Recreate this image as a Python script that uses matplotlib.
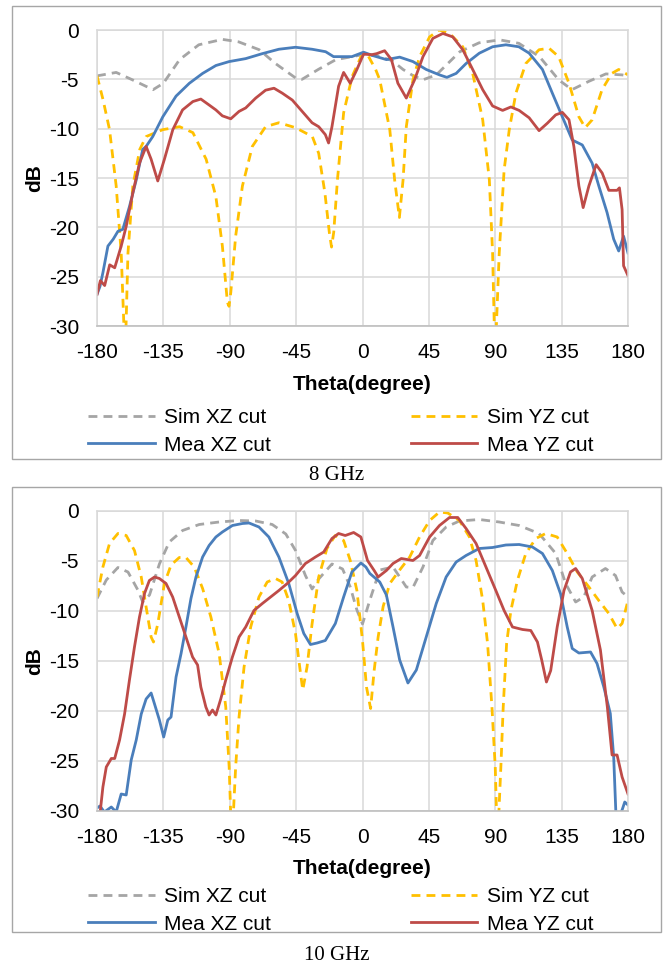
import matplotlib
matplotlib.use("Agg")
import matplotlib.pyplot as plt
from matplotlib.patches import Rectangle

plt.rcParams['font.family'] = ['Liberation Sans', 'DejaVu Sans']
plt.rcParams['axes.unicode_minus'] = False

# ---- 8 GHz ----
sim_xz_8_t = [-180, -167, -156, -142, -135, -124, -111, -95, -84, -70, -59, -45, -41, -30, -18, -7, 0, 10, 20, 27.5,
              34, 41, 50, 66, 79, 93, 106, 120, 133, 142, 153.5, 165, 176, 180]
sim_xz_8_db = [-4.65, -4.3, -5.05, -6.05, -5.4, -3.0, -1.5, -0.95, -1.2, -2.0, -3.4, -4.9, -5.0, -4.0, -3.0, -2.7, -2.5, -2.6, -3.1, -4.0,
               -4.6, -5.05, -4.55, -2.2, -1.3, -1.0, -1.35, -2.7, -5.05, -6.05, -5.2, -4.45, -4.55, -4.65]

sim_yz_8_t = [-180, -176, -171.5, -167, -163.6, -161.5, -160.5, -159, -155.7, -151, -146.7, -135.4, -124, -115, -106, -99.4,
              -95, -91.6, -90.5, -89.3, -86, -81.4, -74.7, -65.7, -56.7, -45.4, -34, -29.7, -25.5, -22.5, -21, -19.5,
              -17, -12.8, -7, -1, 3.4, 8.9, 11.7, 18.5, 21.8, 25, 27.5, 29.7, 34.2, 38.7, 45.5, 52, 59, 68, 74.7,
              81.5, 86, 88.2, 89.5, 90.5, 92.7, 96, 99.5, 104, 110.7, 119.7, 126.5, 133, 140, 146.7, 151, 155.7,
              162.4, 169, 173.7, 180]
sim_yz_8_db = [-4.65, -7.0, -10.1, -15.8, -22.6, -31, -31, -22.6, -15.8, -12.1, -10.8, -10.1, -9.8, -10.4, -13.1, -16.9,
               -21.9, -27.6, -28.0, -26.6, -20.9, -15.8, -11.8, -9.8, -9.4, -9.9, -10.8, -12.5, -16.5, -20.5, -22.0, -20.5,
               -15.2, -8.4, -4.7, -2.7, -2.5, -4.0, -5.05, -10.1, -15.2, -19.0, -15.2, -9.8, -5.05, -2.7, -0.7, 0, -0.35, -1.7, -4.4,
               -9.1, -15.2, -22.6, -31, -31, -22.6, -14.2, -10.1, -6.4, -3.4, -2.0, -1.85, -2.7, -5.4, -8.8, -9.9, -9.1,
               -6.05, -4.4, -4.0, -4.55]

mea_xz_8_t = [-180, -178, -176, -172.6, -169, -165.8, -162.5, -158, -153.4, -149, -146.7, -142.2, -135.4, -126.4, -117.4,
              -108.4, -99.4, -90.4, -79.2, -68, -56.7, -45.4, -34.2, -25, -19.6, -7.2, 0.7, 7.2, 16.2, 25.2, 34.2, 43.2,
              52.2, 57.2, 63.5, 70.2, 79.2, 88.2, 97.2, 106, 113, 122, 128.7, 135.5, 142.2, 149, 155.7, 160.2, 165.8,
              170.3, 173.7, 177, 180]
mea_xz_8_db = [-26.8, -26.0, -24.6, -21.9, -21.2, -20.4, -20.2, -17.9, -15.2, -12.1, -11.8, -10.8, -8.8, -6.7, -5.4,
               -4.4, -3.6, -3.2, -2.9, -2.4, -1.95, -1.75, -1.95, -2.2, -2.7, -2.7, -2.25, -2.6, -3.0, -2.75, -3.2, -4.0,
               -4.55, -4.8, -4.4, -3.4, -2.35, -1.7, -1.5, -1.7, -2.35, -4.0, -6.4, -8.8, -11.15, -11.65, -13.5, -15.8, -18.5,
               -21.2, -22.4, -20.9, -22.6]

mea_yz_8_t = [-180, -177.7, -174.8, -171.4, -168, -163.6, -160.2, -155.7, -151.2, -146.7, -143.3, -138.8, -134.3, -128.6,
              -122, -115, -109.6, -104, -99.4, -95, -89.3, -83.7, -79.2, -72.4, -65.7, -60, -54.4, -47.6, -40.9, -34.2,
              -29.7, -25.2, -23, -20.7, -16.2, -12.8, -8.3, -3.8, 0.7, 6.3, 9.5, 15, 19.6, 24, 29.7, 35.3, 41, 47.7,
              54.5, 61.2, 68, 74.7, 81.5, 88.2, 95, 100.6, 106.2, 113, 119.7, 125.3, 131, 135.5, 140, 143.3, 146.7,
              149.6, 153.5, 158.4, 162.5, 167, 172.6, 174.2, 176, 177, 180]
mea_yz_8_db = [-26.8, -25.4, -25.9, -23.8, -24.1, -21.9, -19.9, -16.5, -13.5, -11.8, -13.1, -15.3, -13.1, -10.1,
               -8.1, -7.25, -7.0, -7.6, -8.1, -8.7, -9.0, -8.25, -7.9, -6.9, -6.1, -5.9, -6.4, -7.1, -8.25, -9.4,
               -9.8, -10.6, -11.45, -9.8, -5.7, -4.3, -5.4, -4.0, -2.45, -2.5, -2.4, -2.1, -3.0, -5.4, -6.9, -5.05, -2.7, -0.85,
               -0.35, -0.7, -2.0, -4.0, -6.05, -7.7, -8.15, -7.8, -8.15, -8.9, -10.2, -9.45, -8.6, -8.35, -9.1, -11.8, -15.8,
               -18.0, -15.8, -13.65, -14.5, -16.25, -16.25, -16.0, -18.2, -23.9, -24.9]

# ---- 10 GHz ----
sim_xz_10_t = [-180, -173.7, -165.8, -159, -152.3, -149, -144.4, -137.7, -131, -122, -110.7, -97.2, -83.7, -72.4, -61.2,
               -52, -45.4, -38.7, -34.2, -29.7, -20.7, -13.5, -8.3, -3.8, 0, 5, 11.7, 20.7, 29.7, 34.2, 41, 47.7, 56.7,
               65.7, 79.2, 92.7, 106.2, 119.7, 131, 137.7, 144.5, 150, 155.7, 164.7, 171.5, 176, 180]
sim_xz_10_db = [-8.75, -6.9, -5.65, -6.1, -7.9, -9.1, -8.4, -5.3, -3.1, -1.95, -1.35, -1.1, -0.95, -1.0, -1.35,
                -2.3, -3.95, -6.45, -7.8, -6.8, -5.3, -5.8, -7.6, -9.9, -11.3, -8.9, -5.9, -5.6, -7.6, -7.65, -5.6, -2.95, -1.6,
                -1.0, -0.85, -1.1, -1.45, -2.25, -4.25, -7.25, -9.1, -8.6, -6.6, -5.75, -6.45, -8.1, -8.6]

sim_yz_10_t = [-180, -176, -171.5, -165.8, -160.2, -154.6, -150, -146.7, -143.3, -141.7, -138.8, -134.3, -129.8, -124.2,
               -119.7, -114.1, -108.4, -102.8, -97.2, -92.7, -90.4, -89.2, -87.8, -86, -83.7, -80.3, -75.8, -70.2, -64.6,
               -59, -54.5, -50, -45.4, -42, -40.5, -37.6, -34.2, -29.7, -24.1, -18.5, -12.8, -8.3, -3.8, 0, 2.7, 5.5,
               7.9, 10.6, 14, 18.5, 25.2, 32, 38.7, 45.5, 52.2, 57.8, 65.7, 72.5, 77, 81.5, 84.8, 87.75, 90, 91, 92.2,
               93.8, 95.4, 97.7, 100.6, 105, 110.7, 117.5, 124.2, 132, 138.8, 145.6, 153.5, 160.2, 167, 172.6, 176, 180]
sim_yz_10_db = [-8.6, -5.6, -3.25, -2.25, -2.45, -3.95, -6.6, -9.6, -12.6, -13.1, -11.3, -7.25, -5.4, -4.65,
                -4.65, -5.6, -7.75, -10.6, -14.25, -19.6, -25.6, -31, -31, -25.6, -20.6, -15.6, -11.6, -8.6, -7.1,
                -6.75, -7.1, -8.95, -12.3, -16.25, -17.9, -15.6, -11.3, -6.6, -3.75, -2.45, -2.95, -4.95, -7.95, -12.95, -17.6, -19.75,
                -15.95, -12.6, -9.55, -7.25, -5.9, -4.6, -2.6, -0.95, -0.1, -0.2, -0.95, -2.6, -4.95, -8.95, -13.25, -19.6, -25.6, -31, -31,
                -25.6, -19.6, -13.25, -9.95, -6.95, -4.25, -2.75, -2.25, -2.6, -4.25, -6.1, -7.6, -8.95, -10.25, -11.75, -11.25, -8.95]

mea_xz_10_t = [-180, -178, -175, -170.3, -167, -163.6, -160.2, -156.8, -153.4, -150, -146.7, -143.3, -141, -137.7, -134.8,
               -132, -129.8, -126.4, -123, -119.7, -116.3, -112.9, -108.4, -104, -99.4, -95, -88.2, -81.4, -76.9, -70.2,
               -63.5, -56.7, -50, -44.3, -39.8, -35.3, -30.8, -25.2, -18.4, -12.8, -7.2, -1.1, 2.3, 5, 11.7, 16.2,
               20.7, 25.2, 30.8, 36.5, 43.2, 50, 56.7, 63.5, 70.2, 79.2, 88.2, 97.2, 106.2, 115.2, 122, 128.7, 134.3,
               138.8, 142.2, 146.7, 154.6, 159, 163.6, 168, 170.3, 172, 176, 177.8, 180]
mea_xz_10_db = [-29.7, -29.5, -30.1, -29.6, -30.1, -28.3, -28.4, -24.9, -22.9, -20.3, -18.8, -18.2, -19.3, -20.9, -22.6,
                -20.9, -20.6, -16.6, -14.25, -11.6, -8.75, -6.6, -4.6, -3.45, -2.6, -2.1, -1.45, -1.25, -1.2, -1.6,
                -2.6, -4.6, -7.25, -10.25, -12.25, -13.35, -13.2, -12.95, -11.25, -8.6, -6.1, -5.2, -5.6, -6.25, -7.1, -8.4,
                -11.6, -14.9, -17.2, -15.9, -12.6, -9.25, -6.6, -5.1, -4.45, -3.75, -3.65, -3.4, -3.35, -3.6, -4.25, -5.95, -8.3,
                -11.6, -13.75, -14.2, -14.1, -15.25, -17.6, -20.25, -24.6, -31, -29.9, -29.1, -29.4]

mea_yz_10_t = [-178.5, -176, -173.7, -170.3, -168, -164.7, -161.3, -158, -154.6, -151.2, -147.8, -144.5, -141, -137.7,
               -133.2, -128.7, -124.2, -119.7, -115.2, -111.8, -109.6, -106.2, -104, -101.7, -99.4, -96.1, -92.7, -88.2,
               -83.7, -79.2, -73.6, -67.9, -62.3, -56.7, -51, -45.4, -38.7, -31.9, -26.3, -20.7, -16.2, -11.7, -6, -1.1,
               3.4, 7.9, 10.6, 16.2, 20.7, 26.3, 34.2, 38.7, 45.5, 52.2, 59, 64.6, 70.2, 77, 83.7, 90.4, 96, 101.7,
               108.5, 114.1, 118.6, 121.5, 124.7, 127.6, 132, 136.6, 141, 144.5, 149, 155.7, 161.3, 166, 169.2, 172.6,
               176, 180]
mea_yz_10_db = [-31, -27.6, -25.6, -24.75, -24.75, -22.9, -20.3, -16.9, -13.6, -10.6, -8.25, -6.95, -6.6, -6.75,
                -7.25, -8.6, -10.6, -12.6, -14.6, -15.4, -17.6, -19.6, -20.4, -19.9, -20.4, -18.8, -16.9, -14.6,
                -12.6, -11.6, -9.95, -9.25, -8.6, -7.95, -7.25, -6.45, -5.25, -4.6, -4.1, -2.75, -2.25, -2.45, -2.15, -2.6,
                -4.95, -5.95, -6.6, -5.95, -5.25, -4.75, -4.95, -4.45, -2.6, -1.45, -0.65, -0.65, -1.75, -3.25, -5.6, -7.95, -9.95, -11.6,
                -11.85, -11.95, -13.1, -14.9, -17.1, -15.95, -11.6, -7.95, -6.1, -5.75, -6.75, -9.95, -13.9, -19.6, -24.4, -24.4,
                -26.6, -28.3]

x_ticks = [-180, -135, -90, -45, 0, 45, 90, 135, 180]
y_ticks = [0, -5, -10, -15, -20, -25, -30]
labels = ['Sim XZ cut', 'Sim YZ cut', 'Mea XZ cut', 'Mea YZ cut']
colors = ['#A5A5A5', '#FFC000', '#4A7EBB', '#BE4B48']

W, H = 668, 966
fig = plt.figure(figsize=(W / 100, H / 100), dpi=100)


def fx(px):
    return px / W


def fy(py):
    return 1 - py / H


def draw_panel(top, bottom, box, leg_top, caption, cap_y, series):
    ax = fig.add_axes([fx(97), fy(bottom), fx(628) - fx(97), fy(top) - fy(bottom)])
    lines = []
    for (t, db), lab, c in zip(series, labels, colors):
        ls = (0, (3.2, 2.2)) if lab.startswith('Sim') else '-'
        ln, = ax.plot(t, db, color=c, lw=2.0, ls=ls, label=lab)
        lines.append(ln)
    ax.set_xlim(-180, 180)
    ax.set_ylim(-30, 0)
    ax.set_xticks(x_ticks)
    ax.set_yticks(y_ticks)
    ax.grid(True, color='#D9D9D9', lw=1.1)
    ax.set_axisbelow(True)
    for s in ['top', 'right', 'left']:
        ax.spines[s].set_color('#D9D9D9')
        ax.spines[s].set_linewidth(1.1)
    ax.spines['bottom'].set_color('#BFBFBF')
    ax.spines['bottom'].set_linewidth(1.2)
    ax.tick_params(length=0, labelsize=15, colors='black')
    ax.tick_params(axis='x', pad=12)
    ax.tick_params(axis='y', pad=13)
    ax.set_xlabel('Theta(degree)', fontsize=15, fontweight='bold', va='center')
    ax.xaxis.set_label_coords(0.5, -58 / (bottom - top))
    ax.set_ylabel('dB', fontsize=15, fontweight='bold', va='center')
    ax.yaxis.set_label_coords((35 - 97) / 531, 0.5)
    handles = [lines[0], lines[2], lines[1], lines[3]]
    fig.legend(handles, [h.get_label() for h in handles], ncol=2, loc='upper left',
               bbox_to_anchor=(fx(88), fy(leg_top)), bbox_transform=fig.transFigure,
               frameon=False, fontsize=15, handlelength=3.2, handletextpad=0.45,
               columnspacing=6.7, labelspacing=0.42, borderpad=0, borderaxespad=0)
    x0, y0, x1, y1 = box
    fig.add_artist(Rectangle((fx(x0), fy(y1)), fx(x1) - fx(x0), fy(y0) - fy(y1),
                             transform=fig.transFigure, fill=False, ec='#A6A6A6', lw=1.0))
    fig.text(fx(337), fy(cap_y), caption, ha='center', va='center',
             family='Liberation Serif', fontsize=15)


draw_panel(30, 326, (12, 6, 661, 459), 408, '8 GHz', 475,
           [(sim_xz_8_t, sim_xz_8_db), (sim_yz_8_t, sim_yz_8_db),
            (mea_xz_8_t, mea_xz_8_db), (mea_yz_8_t, mea_yz_8_db)])
draw_panel(511, 811, (12, 487, 661, 932), 887, '10 GHz', 956,
           [(sim_xz_10_t, sim_xz_10_db), (sim_yz_10_t, sim_yz_10_db),
            (mea_xz_10_t, mea_xz_10_db), (mea_yz_10_t, mea_yz_10_db)])

fig.savefig('out.png', dpi=100)
